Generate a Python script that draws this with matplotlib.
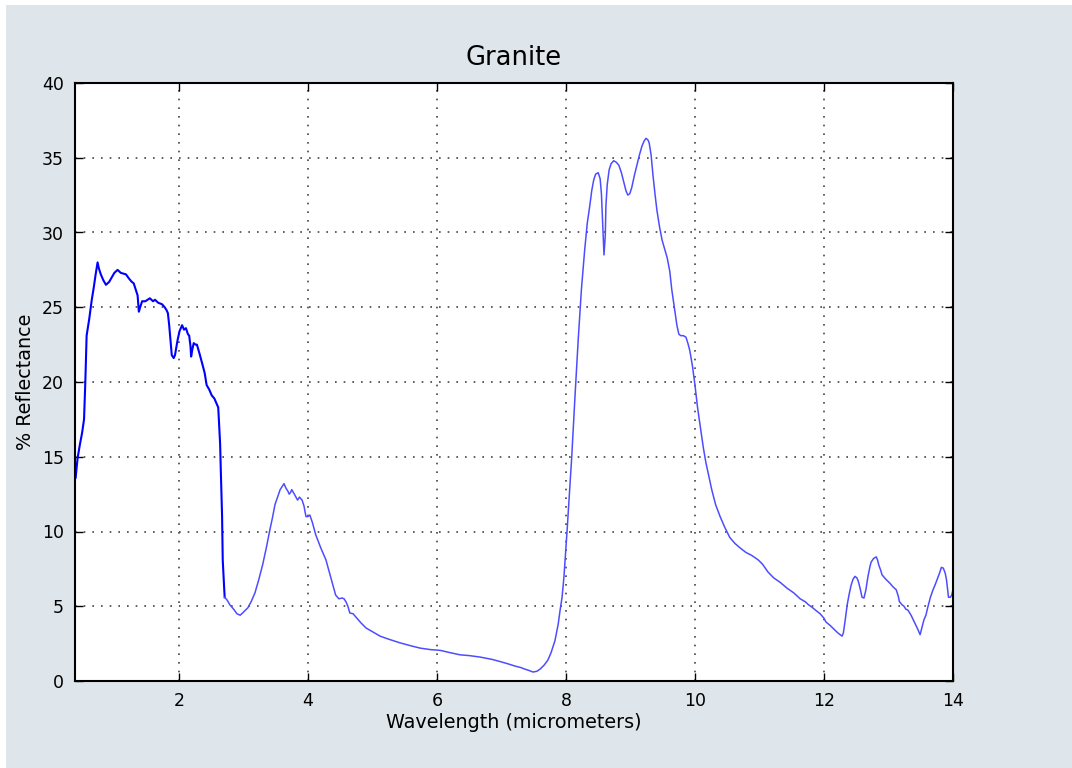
import numpy as np
import matplotlib
matplotlib.use("Agg")
import matplotlib.pyplot as plt
from matplotlib.patches import Rectangle

# granite reflectance spectrum, wavelength in micrometers vs % reflectance
wavelength = [
    0.40, 0.43, 0.465, 0.50, 0.53, 0.55, 0.57, 0.61, 0.65, 0.68, 0.71, 0.74,
    0.76, 0.79, 0.83, 0.87, 0.92, 0.96, 1.00, 1.05, 1.10, 1.18, 1.23, 1.27,
    1.30, 1.33, 1.36, 1.38, 1.40, 1.43, 1.48, 1.55, 1.60, 1.63, 1.68, 1.74,
    1.78, 1.81, 1.83, 1.85, 1.87, 1.89, 1.92, 1.94, 1.96, 1.98, 2.01, 2.05,
    2.08, 2.11, 2.14, 2.16, 2.18, 2.19, 2.21, 2.23, 2.26, 2.28, 2.32, 2.37,
    2.40, 2.43, 2.47, 2.51, 2.55, 2.59, 2.61, 2.62, 2.64, 2.65, 2.67, 2.68,
    2.70, 2.71, 2.75, 2.79, 2.85, 2.90, 2.95, 3.00, 3.07, 3.12, 3.18, 3.24,
    3.30, 3.36, 3.41, 3.45, 3.49, 3.53, 3.57, 3.60, 3.63, 3.66, 3.69, 3.71,
    3.73, 3.75, 3.79, 3.84, 3.87, 3.91, 3.94, 3.97, 4.00, 4.03, 4.07, 4.12,
    4.20, 4.28, 4.35, 4.43, 4.48, 4.53, 4.56, 4.59, 4.62, 4.65, 4.70, 4.74,
    4.82, 4.90, 5.00, 5.12, 5.25, 5.43, 5.60, 5.74, 5.90, 6.05, 6.20, 6.36,
    6.50, 6.67, 6.85, 6.98, 7.10, 7.21, 7.30, 7.36, 7.43, 7.49, 7.55, 7.60,
    7.66, 7.72, 7.77, 7.80, 7.83, 7.88, 7.91, 7.94, 7.97, 8.02, 8.06, 8.09,
    8.14, 8.19, 8.24, 8.29, 8.33, 8.37, 8.40, 8.43, 8.46, 8.50, 8.53, 8.55,
    8.57, 8.59, 8.61, 8.62, 8.64, 8.67, 8.70, 8.74, 8.78, 8.82, 8.86, 8.90,
    8.93, 8.96, 8.99, 9.02, 9.06, 9.10, 9.14, 9.18, 9.21, 9.24, 9.27, 9.29,
    9.32, 9.35, 9.38, 9.41, 9.45, 9.49, 9.53, 9.57, 9.61, 9.64, 9.68, 9.72,
    9.75, 9.78, 9.82, 9.86, 9.89, 9.92, 9.96, 10.00, 10.04, 10.08, 10.13,
    10.17, 10.22, 10.26, 10.32, 10.39, 10.46, 10.54, 10.62, 10.70, 10.79,
    10.88, 10.98, 11.05, 11.13, 11.22, 11.32, 11.43, 11.53, 11.63, 11.71,
    11.76, 11.81, 11.88, 11.94, 12.00, 12.03, 12.10, 12.17, 12.22, 12.25,
    12.28, 12.30, 12.33, 12.36, 12.39, 12.42, 12.45, 12.48, 12.51, 12.53,
    12.56, 12.59, 12.62, 12.65, 12.68, 12.71, 12.73, 12.77, 12.81, 12.83,
    12.85, 12.88, 12.90, 12.96, 13.02, 13.07, 13.12, 13.15, 13.17, 13.21,
    13.24, 13.27, 13.30, 13.35, 13.40, 13.45, 13.49, 13.52, 13.55, 13.58,
    13.61, 13.65, 13.69, 13.72, 13.75, 13.79, 13.82, 13.85, 13.88, 13.90,
    13.93, 13.96, 13.98, 14.00,
]
reflectance = [
    13.6, 14.9, 15.8, 16.6, 17.5, 20.0, 23.1, 24.2, 25.5, 26.3, 27.2, 28.0,
    27.6, 27.2, 26.8, 26.5, 26.7, 27.0, 27.3, 27.5, 27.3, 27.2, 26.9, 26.7,
    26.6, 26.2, 25.8, 24.7, 25.0, 25.4, 25.4, 25.6, 25.4, 25.5, 25.3, 25.2,
    25.0, 24.8, 24.6, 23.8, 22.8, 21.8, 21.6, 21.8, 22.3, 22.8, 23.4, 23.8,
    23.5, 23.6, 23.2, 23.1, 22.4, 21.7, 22.2, 22.6, 22.5, 22.5, 21.9, 21.1,
    20.6, 19.8, 19.5, 19.1, 18.9, 18.5, 18.3, 17.5, 15.8, 14.1, 11.0, 8.1,
    6.4, 5.6, 5.4, 5.1, 4.8, 4.5, 4.4, 4.6, 4.9, 5.3, 5.9, 6.8, 7.8, 9.0,
    10.1, 10.9, 11.8, 12.3, 12.8, 13.0, 13.2, 12.9, 12.7, 12.5, 12.6, 12.8,
    12.5, 12.1, 12.3, 12.1, 11.7, 11.0, 11.0, 11.1, 10.6, 9.8, 8.9, 8.1,
    7.0, 5.75, 5.5, 5.55, 5.5, 5.3, 5.0, 4.55, 4.5, 4.3, 3.9, 3.55, 3.3,
    3.0, 2.8, 2.55, 2.35, 2.2, 2.1, 2.05, 1.9, 1.75, 1.7, 1.6, 1.45, 1.3,
    1.15, 1.0, 0.9, 0.8, 0.7, 0.6, 0.65, 0.8, 1.05, 1.4, 1.9, 2.3, 2.7,
    3.8, 4.75, 5.6, 7.0, 10.2, 13.0, 15.0, 19.0, 22.8, 26.2, 28.8, 30.6,
    31.8, 32.8, 33.5, 33.9, 34.0, 33.6, 32.6, 30.5, 28.5, 29.8, 31.8, 33.2,
    34.2, 34.6, 34.8, 34.7, 34.5, 34.0, 33.3, 32.8, 32.5, 32.6, 33.0, 33.8,
    34.5, 35.2, 35.8, 36.1, 36.3, 36.2, 36.0, 35.2, 33.8, 32.6, 31.5, 30.4,
    29.5, 28.9, 28.3, 27.4, 26.2, 25.0, 23.8, 23.2, 23.1, 23.1, 23.0, 22.6,
    22.1, 21.1, 19.8, 18.3, 17.1, 15.6, 14.6, 13.6, 12.8, 11.8, 11.0, 10.3,
    9.6, 9.2, 8.9, 8.6, 8.4, 8.1, 7.8, 7.3, 6.9, 6.6, 6.2, 5.9, 5.5, 5.3,
    5.1, 4.95, 4.7, 4.5, 4.2, 3.95, 3.7, 3.4, 3.2, 3.1, 3.0, 3.2, 4.1, 5.1,
    5.8, 6.4, 6.8, 7.0, 6.9, 6.7, 6.2, 5.6, 5.55, 6.1, 6.95, 7.6, 7.95, 8.2,
    8.3, 8.1, 7.75, 7.4, 7.1, 6.8, 6.55, 6.3, 6.1, 5.7, 5.3, 5.1, 5.0, 4.8,
    4.75, 4.4, 3.95, 3.5, 3.1, 3.6, 4.1, 4.4, 4.95, 5.6, 6.1, 6.4, 6.75,
    7.2, 7.6, 7.55, 7.2, 6.75, 5.6, 5.6, 5.75, 6.1,
]

x_ticks = [2, 4, 6, 8, 10, 12, 14]
y_ticks = [0, 5, 10, 15, 20, 25, 30, 35, 40]

wl = np.array(wavelength)
refl = np.array(reflectance)

fig = plt.figure(figsize=(10.72, 7.68), dpi=100, facecolor="white")
# light panel behind the plot
fig.patches.append(Rectangle((6 / 1072, 0), 1, 763 / 768, transform=fig.transFigure,
                             facecolor="#dfe6eb", edgecolor="none", zorder=-10))

ax = fig.add_axes([75 / 1072, 1 - 681 / 768, 878 / 1072, 598 / 768])

# the noisy VNIR/SWIR part reads darker and heavier than the smooth thermal part
vnir = wl <= 2.71
ax.plot(wl[vnir], refl[vnir], color="#0000ff", linewidth=1.5)
ax.plot(wl[wl >= 2.71], refl[wl >= 2.71], color="#4d4dff", linewidth=1.1)

ax.set_xlim(0.39, 14)
ax.set_ylim(0, 40)
ax.set_xticks(x_ticks)
ax.set_yticks(y_ticks)
ax.tick_params(direction="in", length=6, width=1, top=True, right=True,
               labelsize=12.5, pad=8)
ax.grid(True, color="#444444", linestyle=(0, (1, 4.2)), linewidth=1.2)
for sp in ax.spines.values():
    sp.set_linewidth(1.5)

ax.set_title("Granite", fontsize=18.5, pad=13)
ax.set_xlabel("Wavelength (micrometers)", fontsize=13.8, labelpad=2)
ax.set_ylabel("% Reflectance", fontsize=13.8, labelpad=5)

fig.savefig("out.png", dpi=100, facecolor=fig.get_facecolor())
